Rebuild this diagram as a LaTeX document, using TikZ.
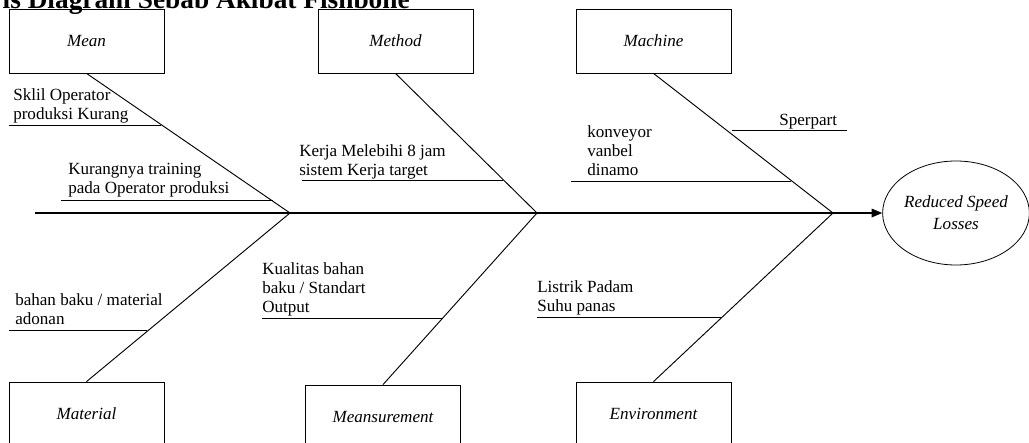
\documentclass[tikz,border=0pt]{standalone}
\usepackage{fontspec}
\setmainfont{Liberation Serif}
\usetikzlibrary{arrows.meta,shapes.geometric}
\begin{document}
\begin{tikzpicture}[x=0.75pt,y=-0.75pt,
  every node/.style={font=\fontsize{12.8}{14.25}\selectfont},
  catbox/.style={draw, line width=0.6pt, minimum width=116.25pt, minimum height=48pt, inner sep=0pt, font=\fontsize{12.8}{14.25}\selectfont\itshape},
  effect/.style={draw, ellipse, line width=0.6pt, minimum width=106.5pt, minimum height=78pt, inner sep=0pt, align=center, font=\fontsize{12.8}{16.5}\selectfont\itshape},
  bone/.style={line width=0.7pt},
  spine/.style={line width=0.9pt, -{Triangle[length=8pt,width=6.5pt]}},
  subline/.style={line width=0.7pt},
  lbl/.style={anchor=base west, align=left, inner sep=0pt},
  ]
\useasboundingbox (0,0) rectangle (1029,443);
% title (cut at the top)
\node[anchor=base east, inner sep=0pt, font=\fontsize{20.5}{24}\selectfont\bfseries] (title) at (410,8) {is Diagram Sebab Akibat Fishbone};
% category boxes
\node[catbox] (mean) at (86.5,41) {Mean};
\node[catbox] (method) at (395.5,41) {Method};
\node[catbox] (machine) at (653.5,41) {Machine};
\node[catbox] (material) at (86.5,414) {Material};
\node[catbox] (meas) at (383,417) {Meansurement};
\node[catbox] (env) at (653.5,414) {Environment};
% effect
\node[effect] (eff) at (956,213) {Reduced Speed\\Losses};
% joints
\coordinate (start) at (35,213);
\coordinate (j1) at (290,213);
\coordinate (j2) at (537,213);
\coordinate (j3) at (833,213);
% spine
\draw[spine] (start) -- (eff.west);
% bones
\draw[bone] (mean.south) -- (j1);
\draw[bone] (material.north) -- (j1);
\draw[bone] (method.south) -- (j2);
\draw[bone] (meas.north) -- (j2);
\draw[bone] (machine.south) -- (j3);
\draw[bone] (env.north) -- (j3);
% sub-cause lines
\coordinate (a1) at (9,125);   \coordinate (b1) at (161,125);
\coordinate (a2) at (61,200);  \coordinate (b2) at (273,200);
\coordinate (a3) at (302,180); \coordinate (b3) at (503,180);
\coordinate (a4) at (571,181); \coordinate (b4) at (791,181);
\coordinate (a5) at (732,130); \coordinate (b5) at (847,130);
\coordinate (a6) at (9,330);   \coordinate (b6) at (147,330);
\coordinate (a7) at (262,318); \coordinate (b7) at (443,318);
\coordinate (a8) at (537,317); \coordinate (b8) at (722,317);
\foreach \i in {1,...,8} {\draw[subline] (a\i) -- (b\i);}
% labels (anchored at the baseline of their last line)
\node[lbl] (t1) at (13,119) {Sklil Operator\\produksi Kurang};
\node[lbl] (t2) at (68,193) {Kurangnya training\\pada Operator produksi};
\node[lbl] (t3) at (299,175) {Kerja Melebihi 8 jam\\sistem Kerja target};
\node[lbl] (t4) at (587,175) {konveyor\\vanbel\\dinamo};
\node[lbl] (t5) at (779,125) {Sperpart};
\node[lbl] (t6) at (15,324) {bahan baku / material\\adonan};
\node[lbl] (t7) at (262,312) {Kualitas bahan\\baku / Standart\\Output};
\node[lbl] (t8) at (537,311) {Listrik Padam\\Suhu panas};
\end{tikzpicture}
\end{document}
